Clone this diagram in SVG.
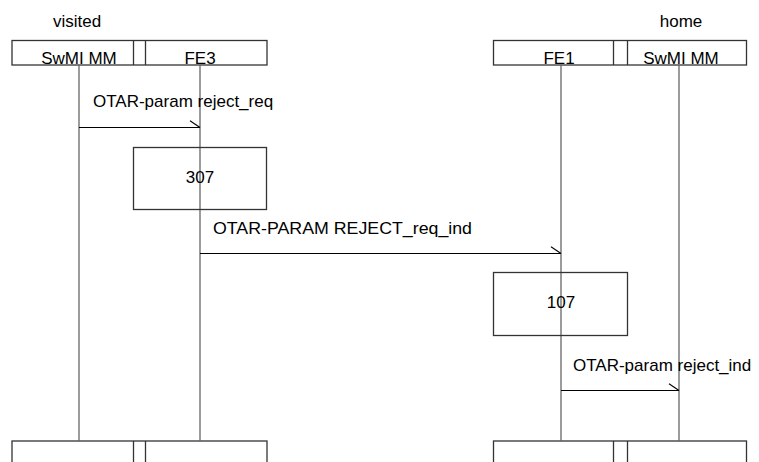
<svg xmlns="http://www.w3.org/2000/svg" width="759" height="462" viewBox="0 0 759 462">
<style>
text{font-family:"Liberation Sans",Arial,sans-serif;font-size:17px;fill:#000}
.box{fill:none;stroke:#333;stroke-width:1.3}
.life{stroke:#666;stroke-width:1.3}
.msg{stroke:#000;stroke-width:1.2;fill:none}
</style>
<defs>
<marker id="half" markerUnits="userSpaceOnUse" markerWidth="14" markerHeight="10" refX="12" refY="8" orient="auto" viewBox="0 0 14 10">
<path d="M2,1.3 L12,8" stroke="#000" stroke-width="1.1" fill="none"/>
</marker>
</defs>
<rect width="759" height="462" fill="#fff"/>
<g id="domain-visited"><text x="77" y="27" text-anchor="middle">visited</text></g>
<g id="domain-home"><text x="681" y="27" text-anchor="middle">home</text></g>
<g id="header-left">
<rect class="box" x="12" y="40.5" width="255" height="24.5"/>
<line class="box" x1="133.5" y1="40.5" x2="133.5" y2="65"/>
<line class="box" x1="145.5" y1="40.5" x2="145.5" y2="65"/>
</g>
<g id="header-right">
<rect class="box" x="493.5" y="40.5" width="253" height="24.5"/>
<line class="box" x1="613.5" y1="40.5" x2="613.5" y2="65"/>
<line class="box" x1="627.5" y1="40.5" x2="627.5" y2="65"/>
</g>
<g id="footer-left">
<rect class="box" x="12" y="441" width="255" height="40"/>
<line class="box" x1="133.5" y1="441" x2="133.5" y2="462"/>
<line class="box" x1="145.5" y1="441" x2="145.5" y2="462"/>
</g>
<g id="footer-right">
<rect class="box" x="493.5" y="441" width="253" height="40"/>
<line class="box" x1="613.5" y1="441" x2="613.5" y2="462"/>
<line class="box" x1="627.5" y1="441" x2="627.5" y2="462"/>
</g>
<g id="lifelines">
<line class="life" x1="79" y1="65" x2="79" y2="441"/>
<line class="life" x1="200" y1="65" x2="200" y2="441"/>
<line class="life" x1="561" y1="65" x2="561" y2="441"/>
<line class="life" x1="679" y1="65" x2="679" y2="441"/>
</g>
<g id="lane-swmi-visited"><text x="79" y="64" text-anchor="middle">SwMI MM</text></g>
<g id="lane-fe3"><text x="200" y="64" text-anchor="middle">FE3</text></g>
<g id="lane-fe1"><text x="559" y="64" text-anchor="middle">FE1</text></g>
<g id="lane-swmi-home"><text x="681" y="64" text-anchor="middle">SwMI MM</text></g>
<g id="box-307">
<rect class="box" x="133.5" y="147.5" width="133" height="62"/>
<text x="200" y="183" text-anchor="middle">307</text>
</g>
<g id="box-107">
<rect class="box" x="493.5" y="272.5" width="134" height="63"/>
<text x="561" y="308" text-anchor="middle">107</text>
</g>
<g id="connectors">
<line class="msg" x1="79" y1="127.5" x2="200" y2="127.5" marker-end="url(#half)"/>
<line class="msg" x1="200" y1="253.5" x2="561" y2="253.5" marker-end="url(#half)"/>
<line class="msg" x1="561" y1="390.5" x2="679" y2="390.5" marker-end="url(#half)"/>
</g>
<g id="labels">
<text x="93" y="107">OTAR-param reject_req</text>
<text x="213" y="234" textLength="259" lengthAdjust="spacingAndGlyphs">OTAR-PARAM REJECT_req_ind</text>
<text x="573" y="371">OTAR-param reject_ind</text>
</g>
</svg>
